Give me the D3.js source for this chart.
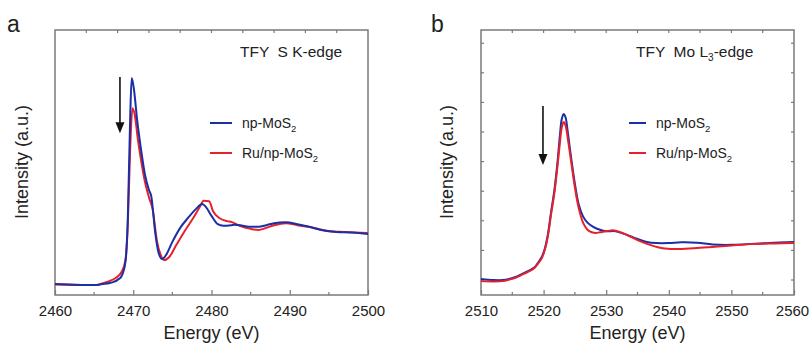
<!DOCTYPE html>
<html><head><meta charset="utf-8">
<script src="https://cdn.jsdelivr.net/npm/d3@7"></script>
<style>body{margin:0;background:#fff}text{font-family:"Liberation Sans",Arial,sans-serif;fill:#222}</style>
</head><body><svg id="c" width="809" height="343"></svg>
<script>
// Panel a: S K-edge
const aEnergyBlue = [2460,2462,2464,2465,2466,2467,2467.5,2468,2468.5,2469,2469.3,2469.6,2469.8,2470.1,2470.5,2471,2471.5,2472,2472.3,2472.8,2473.2,2473.7,2474.2,2475,2476,2477,2478,2478.8,2479.3,2480,2480.8,2481.5,2482.5,2483,2484,2485,2486,2487,2488,2489.5,2491,2492.5,2494,2496,2498,2500];
const aBlue = [0.00,-0.01,-0.02,-0.02,0.00,0.02,0.04,0.08,0.15,0.42,1.23,3.15,3.96,3.73,3.15,2.58,2.10,1.81,1.69,1.00,0.62,0.48,0.56,0.81,1.08,1.27,1.44,1.54,1.48,1.31,1.15,1.12,1.13,1.14,1.12,1.10,1.10,1.13,1.17,1.19,1.15,1.10,1.04,1.00,0.99,0.96];
const aEnergyRed = [2460,2464,2465.5,2466,2467,2467.8,2468.5,2469,2469.3,2469.6,2469.9,2470.2,2470.6,2471,2471.5,2472,2472.5,2473,2473.5,2474,2474.6,2475.5,2476.5,2477.5,2478.5,2479,2479.7,2480.2,2481,2482,2482.6,2483.6,2485,2486,2487,2488,2489.5,2491,2493,2495,2497,2500];
const aRed = [-0.01,-0.02,-0.02,0.01,0.06,0.12,0.23,0.46,1.13,2.58,3.38,3.25,2.77,2.38,1.96,1.67,1.42,0.85,0.56,0.46,0.52,0.75,1.00,1.23,1.48,1.60,1.59,1.40,1.27,1.21,1.19,1.12,1.06,1.04,1.08,1.13,1.17,1.13,1.08,1.02,1.00,0.98];
const aTicks = [2460,2470,2480,2490,2500];

// Panel b: Mo L3-edge
const bEnergyBlue = [2510,2512,2513.5,2514.5,2515.5,2516.5,2517.5,2518.5,2519,2519.7,2520.2,2520.7,2521.2,2521.7,2522.2,2522.6,2522.9,2523.2,2523.5,2523.9,2524.4,2525.0,2525.6,2526.3,2527,2528,2529,2530,2531.5,2533,2534.5,2536.5,2538,2540,2542,2544.5,2547,2550,2552.5,2556,2560];
const bBlue = [0.03,0.00,0.00,0.03,0.08,0.16,0.24,0.34,0.44,0.62,0.85,1.25,1.85,2.40,3.15,3.90,4.35,4.49,4.40,3.95,3.30,2.60,2.05,1.72,1.55,1.43,1.36,1.32,1.32,1.24,1.14,1.03,1.00,1.00,1.02,1.01,0.96,0.95,0.97,1.00,1.03];
const bEnergyRed = [2510,2512,2513.5,2514.5,2515.5,2516.5,2517.5,2518.5,2519,2519.7,2520.2,2520.7,2521.2,2521.7,2522.2,2522.6,2522.9,2523.2,2523.5,2523.9,2524.4,2525.0,2525.6,2526.3,2527,2527.7,2528.3,2529,2530,2531.3,2533,2535,2537,2539,2541,2544,2547,2550,2553,2557,2560];
const bRed = [-0.03,-0.04,-0.03,0.01,0.06,0.14,0.22,0.32,0.42,0.59,0.82,1.20,1.78,2.32,3.05,3.70,4.12,4.27,4.18,3.78,3.20,2.50,1.95,1.55,1.36,1.29,1.27,1.29,1.32,1.34,1.24,1.08,0.95,0.86,0.84,0.86,0.89,0.93,0.97,0.99,1.00];
const bTicks = [2510,2520,2530,2540,2550,2560];

const seriesNames = ["np-MoS", "Ru/np-MoS"];
const colors = ["#1a2fa6", "#e8202a"];

const svg = d3.select("#c");
const frameColor = "#7a7a7a";

function panel(cfg){
  const g = svg.append("g");
  const x = d3.scaleLinear().domain(cfg.xDomain).range([cfg.left, cfg.right]);
  const y = d3.scaleLinear().domain(cfg.yDomain).range([295, 30]);
  const top = 30, bottom = 295;
  g.append("rect").attr("x", cfg.left).attr("y", top).attr("width", cfg.right-cfg.left).attr("height", bottom-top)
    .attr("fill","none").attr("stroke", frameColor).attr("stroke-width", 1.5);
  const bx = g.append("g").attr("transform", `translate(0,${bottom})`)
    .call(d3.axisBottom(x).tickValues(cfg.ticks).tickSize(-5).tickPadding(10).tickFormat(d3.format("d")));
  bx.select(".domain").remove();
  bx.selectAll("line").attr("stroke", frameColor).attr("stroke-width",1.2);
  bx.selectAll("text").style("font-size","15px").style("fill","#222").attr("font-family","Liberation Sans, Arial, sans-serif")
    .attr("dx", (d,i,n)=> (cfg.lastShift && i===n.length-1) ? cfg.lastShift : 0);
  const minor = cfg.ticks.slice(0,-1).map(d=>d+5);
  g.selectAll(".mn").data(minor).join("line").attr("x1",d=>x(d)).attr("x2",d=>x(d))
    .attr("y1",bottom).attr("y2",bottom-3).attr("stroke",frameColor).attr("stroke-width",1.2);
  g.selectAll(".tp").data(cfg.topTicks).join("line").attr("x1",d=>x(d)).attr("x2",d=>x(d))
    .attr("y1",top).attr("y2",top+3).attr("stroke",frameColor).attr("stroke-width",1.2);
  if (cfg.sideTicks){
    g.selectAll(".lt").data(cfg.sideTicks).join("line").attr("x1",cfg.left).attr("x2",cfg.left+3)
      .attr("y1",d=>y(d)).attr("y2",d=>y(d)).attr("stroke",frameColor).attr("stroke-width",1.2);
    g.selectAll(".rt").data(cfg.sideTicks).join("line").attr("x1",cfg.right).attr("x2",cfg.right-3)
      .attr("y1",d=>y(d)).attr("y2",d=>y(d)).attr("stroke",frameColor).attr("stroke-width",1.2);
  }
  const line = d3.line().x(d=>x(d[0])).y(d=>y(d[1])).curve(cfg.curve);
  const sets = [d3.zip(cfg.eBlue, cfg.blue), d3.zip(cfg.eRed, cfg.red)];
  const order = cfg.redOnTop ? [0,1] : [1,0];
  order.forEach(i=>{
    g.append("path").datum(sets[i]).attr("d", line).attr("fill","none")
      .attr("stroke", colors[i]).attr("stroke-width", 2).attr("stroke-linejoin","round");
  });
  g.append("line").attr("x1", x(cfg.arrow[0])).attr("x2", x(cfg.arrow[0]))
    .attr("y1", y(cfg.arrow[1])).attr("y2", y(cfg.arrow[2]) - 9)
    .attr("stroke","#111").attr("stroke-width",1.6);
  const ax = x(cfg.arrow[0]), ay = y(cfg.arrow[2]);
  g.append("path").attr("d", `M${ax-4.5},${ay-11}L${ax+4.5},${ay-11}L${ax},${ay}Z`).attr("fill","#111");
  const t = g.append("text").attr("x", cfg.titleX).attr("y", 57).style("font-size","15.5px").style("white-space","pre");
  t.append("tspan").text(cfg.title[0]);
  if (cfg.title.length > 1){
    t.append("tspan").text(cfg.title[1]).attr("dy", 4).style("font-size","10px");
    t.append("tspan").text(cfg.title[2]).attr("dy", -4);
  }
  seriesNames.forEach((s,i)=>{
    const ly = 123 + i*30;
    g.append("line").attr("x1", cfg.legX).attr("x2", cfg.legX + cfg.legLen).attr("y1", ly).attr("y2", ly)
      .attr("stroke", colors[i]).attr("stroke-width", 2);
    const lt = g.append("text").attr("x", cfg.legX + cfg.legLen + 10).attr("y", ly + 5).style("font-size","14px");
    lt.append("tspan").text(s);
    lt.append("tspan").text("2").attr("dy", 4).style("font-size","9.5px");
  });
  g.append("text").attr("x", (cfg.left+cfg.right)/2).attr("y", 339).attr("text-anchor","middle")
    .style("font-size","18px").text("Energy (eV)");
  g.append("text").attr("transform", `translate(${cfg.ylabX},162) rotate(-90)`).attr("text-anchor","middle")
    .style("font-size","18px").text("Intensity (a.u.)");
  g.append("text").attr("x", cfg.letterX).attr("y", 32).style("font-size","23px").text(cfg.letter);
}

panel({xDomain:[2460,2500], left:55, right:368, yDomain:[-0.2115,4.885], ticks:aTicks,
  topTicks:[2464,2468,2472,2476,2480,2484,2488,2492,2496], curve:d3.curveMonotoneX,
  eBlue:aEnergyBlue, blue:aBlue, eRed:aEnergyRed, red:aRed, redOnTop:false,
  arrow:[2468.3,3.98,2.90], title:["TFY  S K-edge"], titleX:240,
  legX:210, legLen:22, ylabX:28, letterX:7, letter:"a"});

panel({xDomain:[2510,2560], left:481, right:794, yDomain:[-0.405,6.757], ticks:bTicks,
  topTicks:[2515,2520,2525,2530,2535,2540,2545,2550,2555], curve:d3.curveCatmullRom.alpha(0.5),
  sideTicks:[0,0.8,1.6,2.4,3.2,4.0,4.8,5.6,6.4], lastShift:-2,
  eBlue:bEnergyBlue, blue:bBlue, eRed:bEnergyRed, red:bRed, redOnTop:true,
  arrow:[2519.9,4.70,3.11], title:["TFY  Mo L","3","-edge"], titleX:636,
  legX:629, legLen:17, ylabX:453, letterX:431, letter:"b"});
</script></body></html>
